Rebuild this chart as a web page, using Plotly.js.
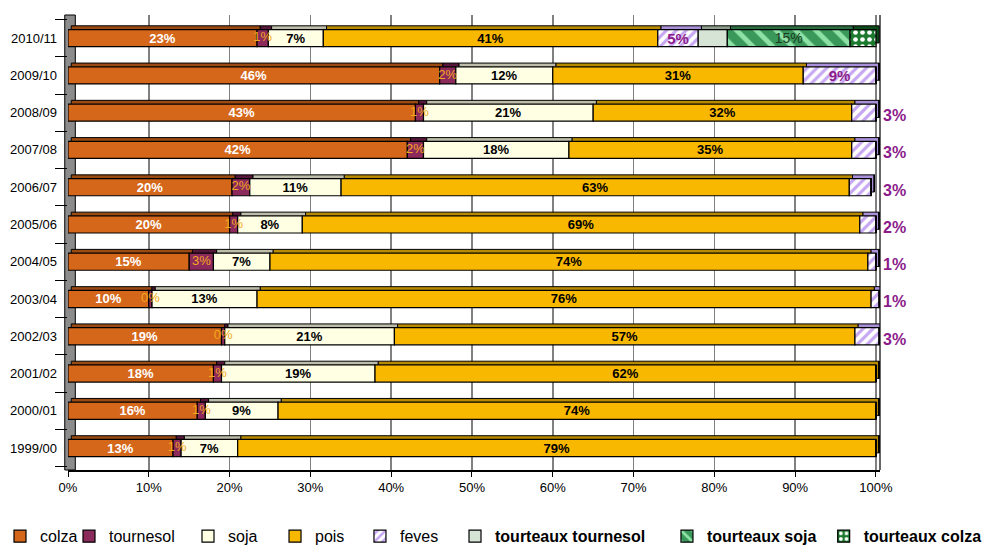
<!DOCTYPE html>
<html>
<head>
<meta charset="utf-8">
<script src="https://cdn.plot.ly/plotly-3.0.1.min.js"></script>
<style>html,body{margin:0;padding:0;background:#fff;}#chart{width:990px;height:545px;}</style>
</head>
<body>
<div id="chart"></div>
<script>
// Campaigns (bottom to top)
const campagnes = ["1999/00","2000/01","2001/02","2002/03","2003/04","2004/05","2005/06","2006/07","2007/08","2008/09","2009/10","2010/11"];
// Shares in % per campaign
const colza      = [13, 16, 18, 19, 10, 15, 20, 20.3, 42, 43, 46, 23.4];
const tournesol  = [1, 1, 1, 0.4, 0.4, 3, 1, 2.2, 2, 1, 2, 1.4];
const soja       = [7, 9, 19, 21, 13, 7, 8, 11.3, 18, 21, 12, 6.8];
const pois       = [79, 74, 62, 57, 76, 74, 69, 62.9, 35, 32, 31, 41.4];
const feves      = [0, 0, 0, 3, 1, 1, 2, 2.7, 3, 3, 9, 5];
const tourteauxTournesol = [0,0,0,0,0,0,0,0,0,0,0,3.6];
const tourteauxSoja      = [0,0,0,0,0,0,0,0,0,0,0,15.2];
const tourteauxColza     = [0,0,0,0,0,0,0,0,0,0,0,3.2];
const xTicks = [0,10,20,30,40,50,60,70,80,90,100];

const FONT = "Liberation Sans, Arial, sans-serif";
function pct(v){ return Math.round(v) + "%"; }

const series = [
  {name: "colza", vals: colza, color: "#D5671B", depth: "#9A4A12",
   text: colza.map(pct), tf: {family: FONT, size: 13, color: "#fff", weight: "bold"}},
  {name: "tournesol", vals: tournesol, color: "#8C2A5C", depth: "#56173A",
   text: tournesol.map(() => "")},
  {name: "soja", vals: soja, color: "#FFFFE4", depth: "#BDBDAA",
   text: soja.map(pct), tf: {family: FONT, size: 13, color: "#000", weight: "bold"}},
  {name: "pois", vals: pois, color: "#F9B800", depth: "#B88A00",
   text: pois.map(pct), tf: {family: FONT, size: 13, color: "#000", weight: "bold"}},
  {name: "feves", vals: feves, color: "#FFFFFF", depth: "#A990D8",
   pattern: {shape: "/", fgcolor: "#C6A6F2", bgcolor: "#FFFFFF", size: 7, solidity: 0.45},
   text: feves.map(v => v >= 5 ? pct(v) : ""), tf: {family: FONT, size: 15, color: "#8B1A8B", weight: "bold"}},
  {name: "<b>tourteaux tournesol</b>", vals: tourteauxTournesol, color: "#D6E4D6", depth: "#8E9E8E",
   text: tourteauxTournesol.map(() => "")},
  {name: "<b>tourteaux soja</b>", vals: tourteauxSoja, color: "#3E9E60", depth: "#2A6E42",
   pattern: {shape: "\\", fgcolor: "#8EE2A6", bgcolor: "#3A985A", size: 14, solidity: 0.35},
   text: tourteauxSoja.map(v => v > 0 ? pct(v) : ""), tf: {family: FONT, size: 14, color: "#1B3B22"}},
  {name: "<b>tourteaux colza</b>", vals: tourteauxColza, color: "#1B7A2E", depth: "#0F4A1B",
   pattern: {shape: ".", fgcolor: "#FFFFFF", bgcolor: "#1B7A2E", size: 7, solidity: 0.35},
   text: tourteauxColza.map(() => "")}
];

// cumulative start of each segment
const bases = [];
let running = campagnes.map(() => 0);
series.forEach(s => {
  bases.push(running.slice());
  running = running.map((r, i) => r + s.vals[i]);
});

const W = 0.46;
const depthTraces = [];
const frontTraces = [];
series.forEach((s, k) => {
  // 3D top / side face (behind the front face)
  depthTraces.push({
    type: "bar", orientation: "h", showlegend: false, hoverinfo: "skip",
    y: campagnes, x: s.vals, base: bases[k].map(b => b + 0.4),
    width: W, offset: -W / 2 + 0.1,
    marker: {color: s.depth, line: {color: "#000", width: 1}}
  });
  const m = {color: s.color, line: {color: "#000", width: 1.2}};
  if (s.pattern) m.pattern = s.pattern;
  frontTraces.push({
    type: "bar", orientation: "h", name: s.name,
    legend: k === 0 ? "legend" : "legend" + (k + 1),
    y: campagnes, x: s.vals, base: bases[k],
    width: W, offset: -W / 2,
    marker: m,
    text: s.text, textfont: s.tf || {family: FONT, size: 13},
    textposition: "inside", insidetextanchor: "middle",
    constraintext: "none", textangle: 0, cliponaxis: false,
    hoverinfo: "x+name"
  });
});

// tournesol labels drawn on top so they overflow the thin segments
const tournesolLabels = {
  type: "scatter", mode: "text", showlegend: false, hoverinfo: "skip",
  y: campagnes, x: colza.map((c, i) => c + tournesol[i] / 2),
  text: tournesol.map(pct), cliponaxis: false,
  textposition: "middle center",
  textfont: {family: FONT, size: 13, color: "#F2A81C"}
};

const traces = depthTraces.concat(frontTraces, [tournesolLabels]);

// Outside labels for small feves shares
const annotations = [];
campagnes.forEach((c, i) => {
  if (feves[i] > 0 && feves[i] < 5) {
    annotations.push({
      xref: "paper", yref: "y", x: 1.018, y: c, yshift: -3,
      text: "<b>" + pct(feves[i]) + "</b>", showarrow: false,
      xanchor: "center",
      font: {family: FONT, size: 16, color: "#8B1A8B"}
    });
  }
});

const legendCommon = {
  orientation: "h", xref: "container", yref: "container",
  xanchor: "left", yanchor: "middle", y: 0.016,
  font: {family: FONT, size: 16, color: "#000"},
  itemwidth: 30, bgcolor: "rgba(0,0,0,0)", borderwidth: 0
};
const legendX = [0, 0.0697, 0.1899, 0.2778, 0.3636, 0.4596, 0.6737, 0.832];

const layout = {
  width: 990, height: 545,
  margin: {l: 68, r: 110, t: 15, b: 75, autoexpand: false},
  paper_bgcolor: "#fff", plot_bgcolor: "#fff",
  barmode: "overlay",
  showlegend: true,
  font: {family: FONT, size: 13, color: "#000"},
  xaxis: {
    range: [0, 100.5], tickvals: xTicks, ticktext: xTicks.map(v => v + "%"),
    showgrid: true, gridcolor: "#808080", gridwidth: 1.6,
    zeroline: false, showline: true, linecolor: "#000", linewidth: 1.5,
    ticks: "outside", ticklen: 5, tickcolor: "#000",
    tickfont: {family: FONT, size: 13, color: "#000"},
    automargin: false, fixedrange: true
  },
  yaxis: {
    type: "category", categoryorder: "array", categoryarray: campagnes,
    range: [-0.59, 11.62],
    showgrid: false, zeroline: false, showline: false,
    ticks: "outside", tickson: "boundaries", ticklen: 12, tickcolor: "#000",
    ticklabelstandoff: 10,
    tickfont: {family: FONT, size: 13, color: "#000"},
    automargin: false, fixedrange: true
  },
  shapes: [
    {type: "rect", xref: "paper", yref: "paper", x0: -0.004, x1: 0.009, y0: 0, y1: 1,
     fillcolor: "#8C8C8C", line: {color: "#000", width: 1}, layer: "below"},
    {type: "line", xref: "paper", yref: "paper", x0: 1, x1: 1, y0: 0, y1: 1,
     line: {color: "#000", width: 1.2}}
  ],
  annotations: annotations
};
legendX.forEach((x, i) => {
  layout[i === 0 ? "legend" : "legend" + (i + 1)] = Object.assign({}, legendCommon, {x: x});
});

Plotly.newPlot("chart", traces, layout, {displayModeBar: false, staticPlot: true});
</script>
</body>
</html>
